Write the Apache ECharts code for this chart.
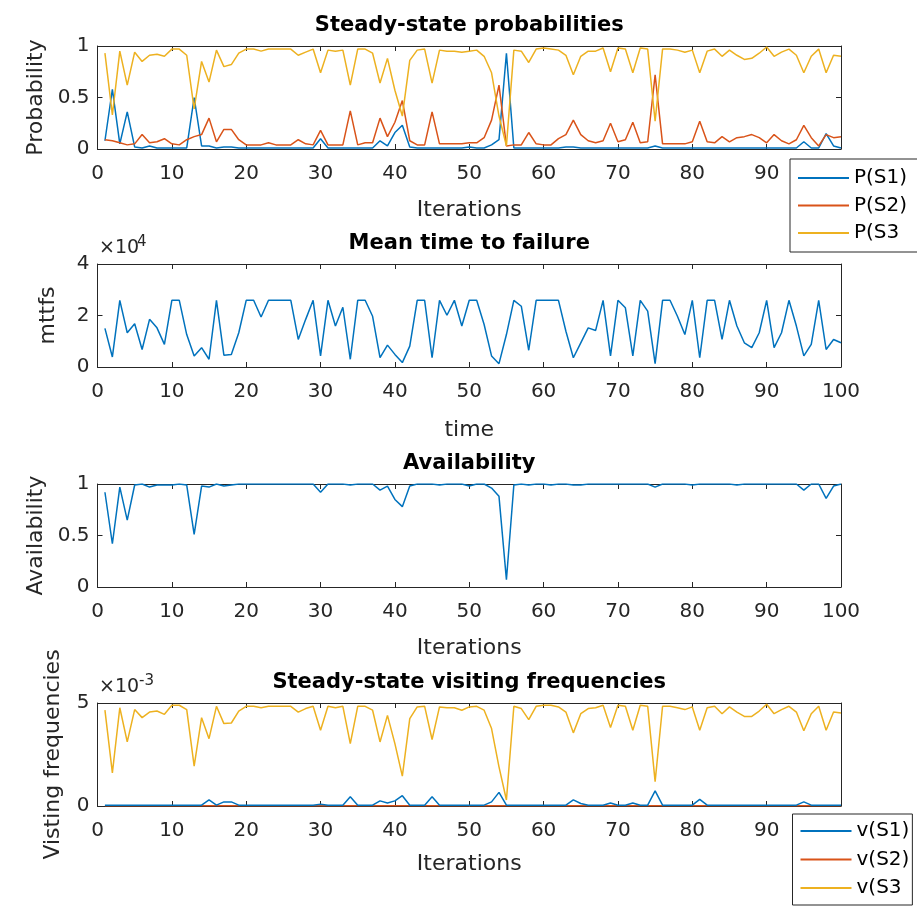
<!DOCTYPE html>
<html>
<head>
<meta charset="utf-8">
<title>Steady-state analysis</title>
<script src="https://cdn.jsdelivr.net/npm/echarts@6/dist/echarts.min.js"></script>
<style>
  html, body { margin: 0; padding: 0; background: #fff; }
  #main { width: 917px; height: 906px; }
</style>
</head>
<body>
<div id="main"></div>
<script>
// iterations 1..100 (x positions)
var iterations = Array.from({length: 100}, function (_, i) { return i + 1; });

// steady-state probabilities
var pS1 = [0.08,0.58,0.05,0.36,0.02,0.01,0.03,0.01,0.01,0.01, 0.01,0.01,0.50,0.03,0.03,0.01,0.02,0.02,0.01,0.01,
           0.01,0.01,0.01,0.01,0.01,0.01,0.01,0.01,0.01,0.10, 0.01,0.01,0.01,0.01,0.01,0.01,0.01,0.08,0.03,0.16,
           0.23,0.02,0.01,0.01,0.01,0.01,0.01,0.01,0.01,0.02, 0.01,0.01,0.04,0.09,0.93,0.01,0.01,0.01,0.01,0.01,
           0.01,0.01,0.02,0.02,0.01,0.01,0.01,0.01,0.01,0.01, 0.01,0.01,0.01,0.01,0.03,0.01,0.01,0.01,0.01,0.01,
           0.01,0.01,0.01,0.01,0.01,0.01,0.01,0.01,0.01,0.01, 0.01,0.01,0.01,0.01,0.07,0.01,0.01,0.15,0.03,0.01];
var pS2 = [0.09,0.08,0.06,0.04,0.05,0.14,0.06,0.07,0.10,0.05, 0.04,0.09,0.12,0.14,0.30,0.07,0.19,0.19,0.09,0.04,
           0.04,0.04,0.06,0.04,0.04,0.04,0.09,0.05,0.04,0.18, 0.04,0.04,0.04,0.37,0.04,0.06,0.06,0.30,0.12,0.26,
           0.47,0.08,0.04,0.04,0.36,0.05,0.05,0.05,0.05,0.06, 0.06,0.11,0.28,0.62,0.03,0.04,0.04,0.16,0.05,0.04,
           0.04,0.10,0.14,0.28,0.14,0.08,0.06,0.08,0.25,0.07, 0.09,0.26,0.06,0.07,0.72,0.05,0.05,0.05,0.05,0.07,
           0.27,0.07,0.06,0.12,0.07,0.11,0.12,0.14,0.11,0.06, 0.14,0.08,0.05,0.09,0.23,0.11,0.03,0.14,0.11,0.12];
var pS3 = [0.93,0.33,0.95,0.62,0.94,0.85,0.91,0.92,0.90,0.97, 0.97,0.91,0.39,0.85,0.65,0.96,0.80,0.82,0.93,0.97,
           0.97,0.95,0.97,0.97,0.97,0.97,0.91,0.94,0.97,0.74, 0.96,0.95,0.96,0.62,0.97,0.97,0.93,0.64,0.88,0.57,
           0.32,0.86,0.96,0.97,0.64,0.96,0.95,0.95,0.94,0.95, 0.96,0.90,0.74,0.32,0.03,0.96,0.95,0.84,0.97,0.98,
           0.97,0.96,0.91,0.72,0.90,0.95,0.95,0.98,0.75,0.98, 0.97,0.74,0.98,0.97,0.27,0.97,0.97,0.96,0.94,0.96,
           0.74,0.95,0.97,0.90,0.96,0.91,0.87,0.88,0.93,0.99, 0.90,0.94,0.97,0.91,0.74,0.90,0.97,0.74,0.91,0.90];

// mean time to failure
var mttfs = [15000,3900,25900,13300,16800,6800,18500,15200,8800,25900, 25900,12600,4300,7500,3000,25900,4600,4900,13300,25900,
             25900,19400,25900,25900,25900,25900,10700,18500,25900,4300, 25900,15900,23200,3000,25900,25900,19700,3600,8500,4900,
             1700,8100,25900,25900,3600,25900,20100,25900,15900,25900, 25900,16500,4300,1300,12600,25900,23600,6500,25900,25900,
             25900,25900,13900,3600,9400,15200,14200,25900,4300,25900, 23000,4300,25900,21700,1300,25900,25900,19700,12600,25900,
             3600,25900,25900,10700,25900,15900,9400,7500,13300,25900, 7500,13300,25900,15900,4300,8800,25900,6800,10700,9400];

// availability
var avail = [0.92,0.42,0.97,0.65,0.99,1.00,0.97,0.99,0.99,0.99, 1.00,0.99,0.51,0.98,0.97,1.00,0.98,0.99,1.00,1.00,
             1.00,1.00,1.00,1.00,1.00,1.00,1.00,1.00,1.00,0.92, 1.00,1.00,1.00,0.99,1.00,1.00,1.00,0.94,0.98,0.85,
             0.78,0.98,1.00,1.00,1.00,0.99,1.00,1.00,1.00,0.98, 1.00,1.00,0.96,0.88,0.07,0.99,1.00,0.99,1.00,1.00,
             0.99,1.00,1.00,0.99,0.99,1.00,1.00,1.00,1.00,1.00, 1.00,1.00,1.00,1.00,0.97,1.00,1.00,1.00,1.00,0.99,
             1.00,1.00,1.00,1.00,1.00,0.99,1.00,1.00,1.00,1.00, 1.00,1.00,1.00,1.00,0.94,1.00,1.00,0.86,0.98,1.00];

// steady-state visiting frequencies (x 10^-3)
var vS1 = [0.04,0.04,0.04,0.04,0.04,0.04,0.04,0.04,0.04,0.04, 0.04,0.04,0.04,0.04,0.30,0.04,0.20,0.20,0.04,0.04,
           0.04,0.04,0.04,0.04,0.04,0.04,0.04,0.04,0.04,0.08, 0.04,0.04,0.04,0.45,0.04,0.04,0.04,0.25,0.15,0.25,
           0.50,0.04,0.04,0.04,0.45,0.04,0.04,0.04,0.04,0.04, 0.04,0.04,0.20,0.66,0.04,0.04,0.04,0.04,0.04,0.04,
           0.04,0.04,0.04,0.30,0.12,0.04,0.04,0.04,0.15,0.04, 0.04,0.15,0.04,0.04,0.73,0.04,0.04,0.04,0.04,0.04,
           0.32,0.04,0.04,0.04,0.04,0.04,0.04,0.04,0.04,0.04, 0.04,0.04,0.04,0.04,0.20,0.04,0.04,0.04,0.04,0.04];
var vS2 = [0.01,0.01,0.01,0.01,0.01,0.01,0.01,0.01,0.01,0.01, 0.01,0.01,0.01,0.01,0.01,0.01,0.01,0.01,0.01,0.01,
           0.01,0.01,0.01,0.01,0.01,0.01,0.01,0.01,0.01,0.01, 0.01,0.01,0.01,0.01,0.01,0.01,0.01,0.01,0.01,0.01,
           0.01,0.01,0.01,0.01,0.01,0.01,0.01,0.01,0.01,0.01, 0.01,0.01,0.01,0.01,0.01,0.01,0.01,0.01,0.01,0.01,
           0.01,0.01,0.01,0.01,0.01,0.01,0.01,0.01,0.01,0.01, 0.01,0.01,0.01,0.01,0.01,0.01,0.01,0.01,0.01,0.01,
           0.01,0.01,0.01,0.01,0.01,0.01,0.01,0.01,0.01,0.01, 0.01,0.01,0.01,0.01,0.01,0.01,0.01,0.01,0.01,0.01];
var vS3 = [4.65,1.61,4.77,3.11,4.68,4.29,4.56,4.61,4.45,4.89, 4.89,4.68,1.94,4.29,3.27,4.84,4.00,4.03,4.61,4.84,
           4.84,4.77,4.84,4.84,4.84,4.84,4.56,4.73,4.84,3.68, 4.84,4.77,4.84,3.03,4.84,4.84,4.65,3.11,4.40,3.03,
           1.45,4.24,4.81,4.84,3.23,4.81,4.77,4.77,4.65,4.81, 4.84,4.65,3.76,1.90,0.29,4.84,4.73,4.19,4.84,4.89,
           4.89,4.81,4.56,3.55,4.48,4.73,4.77,4.89,3.81,4.89, 4.84,3.68,4.89,4.84,1.18,4.84,4.84,4.77,4.68,4.81,
           3.68,4.77,4.84,4.48,4.81,4.56,4.35,4.35,4.61,4.94, 4.48,4.68,4.84,4.56,3.65,4.48,4.84,3.68,4.56,4.52];

var xTicks = [0, 100, 10];

function pairs(ys) {
    return iterations.map(function (x, i) { return [x, ys[i]]; });
}

var FONT = 'DejaVu Sans';
var AXC = '#262626';
var tops = [46, 264, 484, 703];
var gridH = 103, gridL = 97.5, gridW = 743.5;

var grids = tops.map(function (t) {
    return { left: gridL, top: t, width: gridW, height: gridH };
});

// y axis settings per panel: [min, max, interval, name, nameGap]
var yCfg = [
    [0, 1, 0.5, 'Probability', 50],
    [0, 40000, 20000, 'mttfs', 38],
    [0, 1, 0.5, 'Availability', 50],
    [0, 5, 5, 'Visting frequencies', 33]
];
var xNames = ['Iterations', 'time', 'Iterations', 'Iterations'];
var xNameGaps = [50, 52, 50, 47];

var xAxes = [], yAxes = [];
for (var i = 0; i < 4; i++) {
    xAxes.push({
        type: 'value', gridIndex: i, min: xTicks[0], max: xTicks[1], interval: xTicks[2],
        name: xNames[i], nameLocation: 'middle', nameGap: xNameGaps[i],
        nameTextStyle: { fontFamily: FONT, fontSize: 22, color: AXC },
        axisLine: { onZero: false, lineStyle: { color: AXC, width: 1 } },
        axisTick: { inside: true, length: 5, lineStyle: { color: AXC } },
        axisLabel: { fontFamily: FONT, fontSize: 20, color: AXC, margin: 15 },
        splitLine: { show: false }
    });
    yAxes.push({
        type: 'value', gridIndex: i, min: yCfg[i][0], max: yCfg[i][1], interval: yCfg[i][2],
        name: yCfg[i][3], nameLocation: 'middle', nameGap: yCfg[i][4],
        nameTextStyle: { fontFamily: FONT, fontSize: 22, color: AXC },
        axisLine: { show: true, onZero: false, lineStyle: { color: AXC, width: 1 } },
        axisTick: { show: true, inside: true, length: 5, lineStyle: { color: AXC } },
        axisLabel: {
            fontFamily: FONT, fontSize: 20, color: AXC, margin: 8,
            formatter: i === 1 ? function (v) { return v / 10000; } : null
        },
        splitLine: { show: false }
    });
}
// mirrored top/right axes for the box with ticks
for (var j = 0; j < 4; j++) {
    xAxes.push({
        type: 'value', gridIndex: j, position: 'top', min: xTicks[0], max: xTicks[1], interval: xTicks[2],
        axisLine: { onZero: false, lineStyle: { color: AXC, width: 1 } },
        axisTick: { inside: true, length: 5, lineStyle: { color: AXC } },
        axisLabel: { show: false }, splitLine: { show: false }
    });
    yAxes.push({
        type: 'value', gridIndex: j, position: 'right', min: yCfg[j][0], max: yCfg[j][1], interval: yCfg[j][2],
        axisLine: { show: true, onZero: false, lineStyle: { color: AXC, width: 1 } },
        axisTick: { show: true, inside: true, length: 5, lineStyle: { color: AXC } },
        axisLabel: { show: false }, splitLine: { show: false }
    });
}

function line(name, data, color, gi, z) {
    return {
        name: name, type: 'line', xAxisIndex: gi, yAxisIndex: gi,
        data: pairs(data), showSymbol: false, symbol: 'none', animation: false,
        lineStyle: { color: color, width: 1.5 }, itemStyle: { color: color },
        z: z || 2
    };
}

var blue = '#0072BD', red = '#D95319', yellow = '#EDB120';

function titleText(txt, y) {
    return {
        type: 'text', x: gridL + gridW / 2, y: y,
        style: { text: txt, fontFamily: FONT, fontSize: 21, fontWeight: 'bold', fill: '#000',
                 align: 'center', verticalAlign: 'middle' }
    };
}
function smallText(txt, x, y, size) {
    return {
        type: 'text', x: x, y: y,
        style: { text: txt, fontFamily: FONT, fontSize: size, fill: AXC,
                 align: 'left', verticalAlign: 'bottom' }
    };
}

var legendBase = {
    orient: 'vertical', icon: 'rect', itemWidth: 51, itemHeight: 2,
    backgroundColor: '#fff', borderColor: AXC, borderWidth: 1, borderRadius: 0,
    textStyle: { fontFamily: FONT, fontSize: 20, color: '#000', lineHeight: 20 },
    z: 10
};

var chart = echarts.init(document.getElementById('main'));
chart.setOption({
    animation: false,
    backgroundColor: '#fff',
    grid: grids,
    xAxis: xAxes,
    yAxis: yAxes,
    legend: [
        Object.assign({}, legendBase, {
            left: 790, top: 159, itemGap: 7.5, padding: [9, 20, 9, 8],
            data: ['P(S1)', 'P(S2)', 'P(S3']
        }),
        Object.assign({}, legendBase, {
            left: 792.5, top: 814, itemGap: 8.5, padding: [7, 3, 7, 8],
            data: ['v(S1)', 'v(S2)', 'v(S3']
        })
    ],
    graphic: [
        titleText('Steady-state probabilities', 26),
        titleText('Mean time to failure', 244),
        titleText('Availability', 464),
        titleText('Steady-state visiting frequencies', 683),
        smallText('\u00d710', 99, 258, 19),
        smallText('4', 137, 250, 15),
        smallText('\u00d710', 99, 697, 19),
        smallText('-3', 139, 689, 15)
    ],
    series: [
        line('P(S1)', pS1, blue, 0),
        line('P(S2)', pS2, red, 0),
        line('P(S3', pS3, yellow, 0),
        line('mttfs', mttfs, blue, 1),
        line('Availability', avail, blue, 2),
        line('v(S2)', vS2, red, 3, 1),
        line('v(S1)', vS1, blue, 3, 2),
        line('v(S3', vS3, yellow, 3, 3)
    ]
});
</script>
</body>
</html>
